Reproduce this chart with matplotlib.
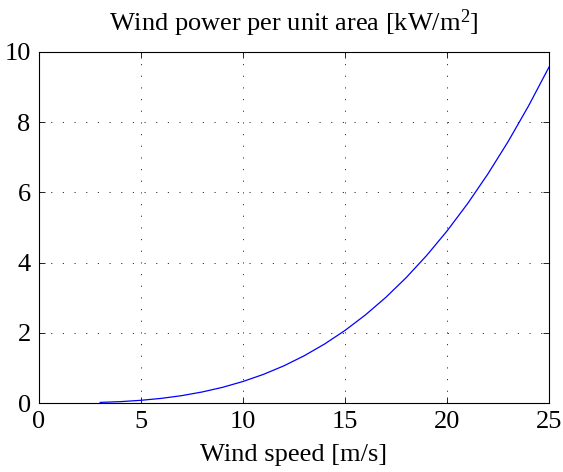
import matplotlib
matplotlib.use("Agg")
import matplotlib.pyplot as plt

plt.rcParams["font.family"] = ["Liberation Serif", "DejaVu Serif"]
plt.rcParams["mathtext.fontset"] = "custom"
plt.rcParams["mathtext.rm"] = "Liberation Serif"
plt.rcParams["mathtext.it"] = "Liberation Serif:italic"

# wind speed [m/s] and power density [kW/m^2]
speed = [3, 4, 5, 6, 7, 8, 9, 10, 11, 12, 13, 14, 15, 16, 17, 18, 19, 20,
         21, 22, 23, 24, 25]
power = [0.017, 0.039, 0.077, 0.132, 0.210, 0.314, 0.447, 0.613, 0.815,
         1.058, 1.346, 1.681, 2.067, 2.509, 3.009, 3.572, 4.201, 4.900,
         5.672, 6.522, 7.452, 8.467, 9.570]
xticks = [0, 5, 10, 15, 20, 25]
yticks = [0, 2, 4, 6, 8, 10]

fig = plt.figure(figsize=(5.63, 4.72), dpi=100)
ax = fig.add_axes([39 / 563, 1 - 403 / 472, 510 / 563, 351 / 472])
ax.plot(speed, power, color="blue", lw=0.9)

ax.set_xlim(0, 25)
ax.set_ylim(0, 10)
ax.set_xticks(xticks)
ax.set_yticks(yticks)
ax.tick_params(direction="in", top=True, right=True, length=4, width=0.6,
               labelsize=19, pad=6)
ax.grid(True, color="0.2", linestyle=(0, (1.2, 10.8)), linewidth=0.7)
for s in ax.spines.values():
    s.set_linewidth(0.8)

ax.set_xlabel("Wind speed [m/s]", fontsize=19, labelpad=8)
ax.set_title("Wind power per unit area [kW/m$^{2}$]", fontsize=19, pad=15)

fig.savefig("out.png", dpi=100)
